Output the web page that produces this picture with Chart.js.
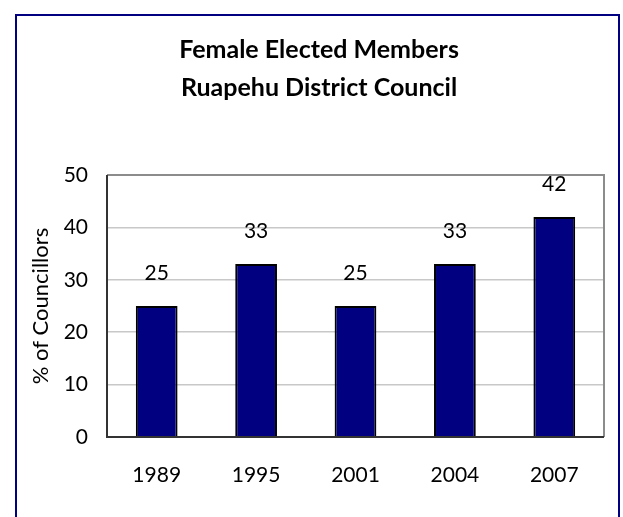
<!DOCTYPE html>
<html lang="en">
<head>
  <meta charset="UTF-8">
  <title>Female Elected Members - Ruapehu District Council</title>
  <script src="https://cdn.jsdelivr.net/npm/chart.js"></script>
  <style>
    html, body { margin: 0; padding: 0; background: #fff; overflow: hidden; }
    #frame {
      position: absolute; left: 15px; top: 14px; width: 601px; height: 540px;
      border: 2px solid #000080; border-bottom: none;
    }
    #chart { position: absolute; left: 0; top: 0; }
  </style>
</head>
<body>
  <div id="frame"></div>
  <canvas id="chart" width="623" height="517"></canvas>

  <script>
    // data
    const years = ['1989', '1995', '2001', '2004', '2007'];
    const percentFemale = [25, 33, 25, 33, 42];
    const titleLines = ['Female Elected Members', 'Ruapehu District Council'];

    const FONT = 'Lato, "DejaVu Sans", sans-serif';

    // value labels drawn above each bar
    const valueLabels = {
      id: 'valueLabels',
      afterDatasetsDraw(chart) {
        const ctx = chart.ctx;
        ctx.save();
        ctx.font = '21px ' + FONT;
        ctx.fillStyle = '#000';
        ctx.textAlign = 'center';
        ctx.textBaseline = 'middle';
        chart.getDatasetMeta(0).data.forEach((bar, i) => {
          ctx.fillText(chart.data.datasets[0].data[i], bar.x, bar.y - 33);
        });
        ctx.restore();
      }
    };

    // grey frame around the plot area
    const plotFrame = {
      id: 'plotFrame',
      afterDraw(chart) {
        const a = chart.chartArea;
        const ctx = chart.ctx;
        ctx.save();
        ctx.strokeStyle = '#8c8c8c';
        ctx.lineWidth = 2;
        ctx.beginPath();
        ctx.moveTo(a.left, a.top);
        ctx.lineTo(a.right, a.top);
        ctx.lineTo(a.right, a.bottom);
        ctx.stroke();
        ctx.strokeStyle = '#333';
        ctx.beginPath();
        ctx.moveTo(a.left, a.top);
        ctx.lineTo(a.left, a.bottom);
        ctx.lineTo(a.right, a.bottom);
        ctx.stroke();
        ctx.restore();
      }
    };

    new Chart(document.getElementById('chart'), {
      type: 'bar',
      data: {
        labels: years,
        datasets: [{
          data: percentFemale,
          backgroundColor: '#000080',
          borderColor: '#000',
          borderWidth: 2,
          barPercentage: 0.42,
          categoryPercentage: 1
        }]
      },
      options: {
        responsive: false,
        animation: false,
        layout: { padding: { left: 34, right: 19, top: 0, bottom: 0 } },
        plugins: {
          legend: { display: false },
          tooltip: { enabled: false },
          title: {
            display: true,
            text: titleLines,
            color: '#000',
            font: { family: FONT, size: 25, weight: 'bold', lineHeight: 1.52 },
            padding: { top: 31, bottom: 68 }
          }
        },
        scales: {
          x: {
            grid: { display: false },
            border: { display: false },
            ticks: { color: '#000', font: { family: FONT, size: 21 }, padding: 18 },
            afterFit(scale) { scale.height = 80; }
          },
          y: {
            min: 0,
            max: 50,
            ticks: { stepSize: 10, color: '#000', font: { family: FONT, size: 21 }, padding: 19 },
            grid: { color: '#c8c8c8', lineWidth: 1.5, drawTicks: false },
            border: { display: false },
            title: {
              display: true,
              text: '% of Councillors',
              color: '#000',
              font: { family: FONT, size: 22 },
              padding: { top: -6, bottom: 0 }
            },
            afterFit(scale) { scale.width = 73; }
          }
        }
      },
      plugins: [valueLabels, plotFrame]
    });
  </script>
</body>
</html>
